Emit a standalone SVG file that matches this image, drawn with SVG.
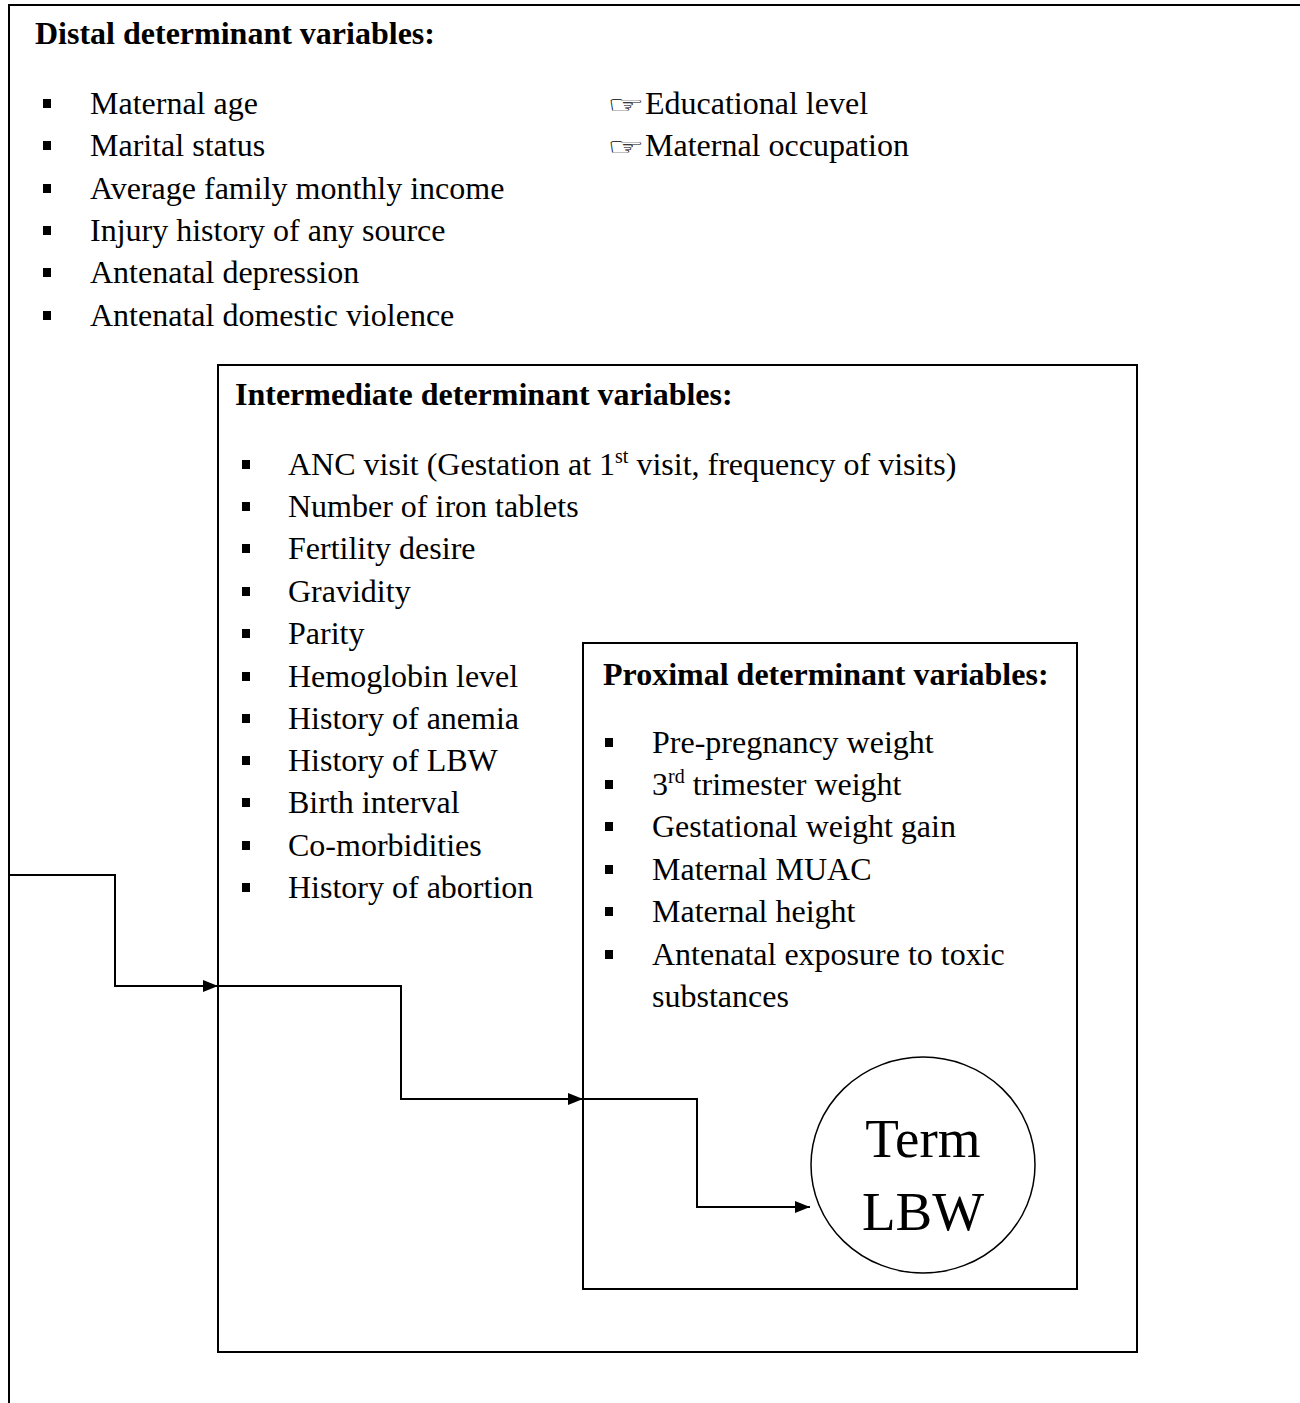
<svg xmlns="http://www.w3.org/2000/svg" width="1300" height="1403" viewBox="0 0 1300 1403">
<defs>
<style>
text{font-family:"Liberation Serif","Times New Roman",serif;font-size:32px;fill:#000}
.h{font-weight:bold}
.big{font-size:55px}
.sup{font-size:20px}
.box{fill:none;stroke:#000;stroke-width:2}
.b{fill:#000}
.con{fill:none;stroke:#000;stroke-width:2}
.hand{font-family:"DejaVu Sans",sans-serif;font-size:40px}
</style>
<marker id="arr" viewBox="0 0 15 12" refX="15" refY="6" markerWidth="15" markerHeight="12" markerUnits="userSpaceOnUse" orient="auto">
<path d="M0,0 L15,6 L0,12 Z" fill="#000"/>
</marker>
</defs>
<rect width="1300" height="1403" fill="#fff"/>
<g id="distal">
<path class="box" d="M9,1403 V5 H1310"/>
<text class="h" x="35" y="44">Distal determinant variables:</text>
<rect class="b" x="43" y="99" width="8" height="9"/><text x="90" y="114">Maternal age</text>
<rect class="b" x="43" y="141" width="8" height="9"/><text x="90" y="156">Marital status</text>
<rect class="b" x="43" y="184" width="8" height="9"/><text x="90" y="199">Average family monthly income</text>
<rect class="b" x="43" y="226" width="8" height="9"/><text x="90" y="241">Injury history of any source</text>
<rect class="b" x="43" y="268" width="8" height="9"/><text x="90" y="283">Antenatal depression</text>
<rect class="b" x="43" y="311" width="8" height="9"/><text x="90" y="326">Antenatal domestic violence</text>
<text class="hand" transform="translate(607,112.5) scale(1.05,0.6)">☞</text><text x="645" y="114">Educational level</text>
<text class="hand" transform="translate(607,154.5) scale(1.05,0.6)">☞</text><text x="645" y="156">Maternal occupation</text>
</g>
<g id="intermediate">
<rect class="box" x="218" y="365" width="919" height="987"/>
<text class="h" x="235" y="405">Intermediate determinant variables:</text>
<rect class="b" x="242" y="460" width="8" height="9"/><text x="288" y="475">ANC visit (Gestation at 1<tspan class="sup" dy="-12">st</tspan><tspan dy="12"> visit, frequency of visits)</tspan></text>
<rect class="b" x="242" y="502" width="8" height="9"/><text x="288" y="517">Number of iron tablets</text>
<rect class="b" x="242" y="544" width="8" height="9"/><text x="288" y="559">Fertility desire</text>
<rect class="b" x="242" y="587" width="8" height="9"/><text x="288" y="602">Gravidity</text>
<rect class="b" x="242" y="629" width="8" height="9"/><text x="288" y="644">Parity</text>
<rect class="b" x="242" y="672" width="8" height="9"/><text x="288" y="687">Hemoglobin level</text>
<rect class="b" x="242" y="714" width="8" height="9"/><text x="288" y="729">History of anemia</text>
<rect class="b" x="242" y="756" width="8" height="9"/><text x="288" y="771">History of LBW</text>
<rect class="b" x="242" y="798" width="8" height="9"/><text x="288" y="813">Birth interval</text>
<rect class="b" x="242" y="841" width="8" height="9"/><text x="288" y="856">Co-morbidities</text>
<rect class="b" x="242" y="883" width="8" height="9"/><text x="288" y="898">History of abortion</text>
</g>
<g id="proximal">
<rect class="box" x="583" y="643" width="494" height="646"/>
<text class="h" x="603" y="685">Proximal determinant variables:</text>
<rect class="b" x="605" y="738" width="8" height="9"/><text x="652" y="753">Pre-pregnancy weight</text>
<rect class="b" x="605" y="780" width="8" height="9"/><text x="652" y="795">3<tspan class="sup" dy="-12">rd</tspan><tspan dy="12"> trimester weight</tspan></text>
<rect class="b" x="605" y="822" width="8" height="9"/><text x="652" y="837">Gestational weight gain</text>
<rect class="b" x="605" y="865" width="8" height="9"/><text x="652" y="880">Maternal MUAC</text>
<rect class="b" x="605" y="907" width="8" height="9"/><text x="652" y="922">Maternal height</text>
<rect class="b" x="605" y="950" width="8" height="9"/><text x="652" y="965">Antenatal exposure to toxic</text>
<text x="652" y="1007">substances</text>
</g>
<g id="outcome">
<ellipse cx="923" cy="1165" rx="112" ry="108" fill="#fff" stroke="#000" stroke-width="1.5"/>
<text class="big" x="923" y="1157" text-anchor="middle">Term</text>
<text class="big" x="923" y="1230" text-anchor="middle">LBW</text>
</g>
<g id="connectors">
<path class="con" d="M9,875 H115 V986 H218" marker-end="url(#arr)"/>
<path class="con" d="M218,986 H401 V1099 H583" marker-end="url(#arr)"/>
<path class="con" d="M583,1099 H697 V1207 H810" marker-end="url(#arr)"/>
</g>
</svg>
